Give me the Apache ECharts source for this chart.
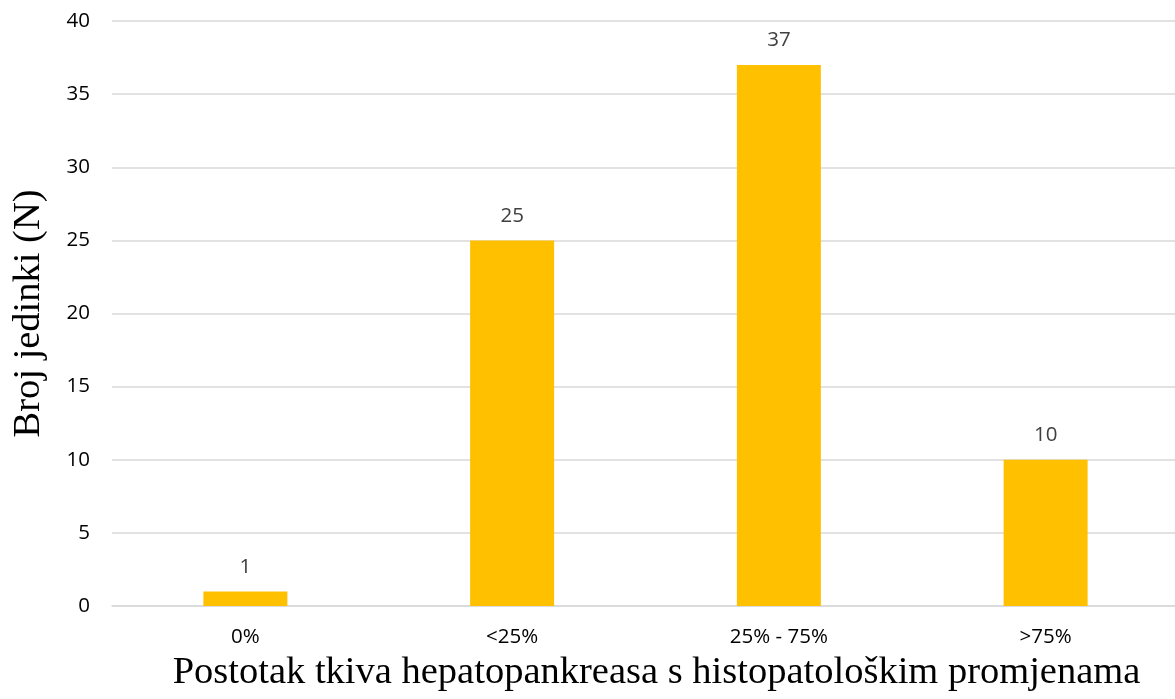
<!DOCTYPE html>
<html><head><meta charset="utf-8">
<script src="https://cdn.jsdelivr.net/npm/echarts@6/dist/echarts.min.js"></script>
<style>html,body{margin:0;padding:0;background:#fff}#c{width:1175px;height:699px}</style>
</head><body><div id="c"></div>
<script>
const categories = ['0%', '<25%', '25% - 75%', '>75%'];
const values = [1, 25, 37, 10];
const xTitle = 'Postotak tkiva hepatopankreasa s histopatološkim promjenama';
const yTitle = 'Broj jedinki (N)';

const chart = echarts.init(document.getElementById('c'));
chart.setOption({
  animation: false,
  grid: { left: 112, top: 21, bottom: 93, width: 1067, containLabel: false, outerBoundsMode: 'none' },
  xAxis: {
    type: 'category', data: categories,
    axisLine: { lineStyle: { color: '#d9d9d9', width: 1.5 } },
    axisTick: { show: false },
    axisLabel: { color: '#000', fontSize: 20.5, fontFamily: 'Open Sans', margin: 21 },
    name: xTitle, nameLocation: 'middle', nameGap: 45,
    nameTextStyle: { fontFamily: 'Liberation Serif', fontSize: 38.5, color: '#000', padding: [0, 0, 0, 22] }
  },
  yAxis: {
    type: 'value', min: 0, max: 40, interval: 5,
    axisLine: { show: false }, axisTick: { show: false },
    splitLine: { lineStyle: { color: '#d9d9d9', width: 1.5 } },
    axisLabel: { color: '#000', fontSize: 20.5, fontFamily: 'Open Sans', margin: 22 },
    name: yTitle, nameLocation: 'middle', nameGap: 64,
    nameTextStyle: { fontFamily: 'Liberation Serif', fontSize: 38.5, color: '#000' }
  },
  series: [{
    type: 'bar', data: values, barWidth: 84,
    itemStyle: { color: '#ffc000' },
    label: { show: true, position: 'top', distance: 14, color: '#404040', fontSize: 20.5, fontFamily: 'Open Sans' }
  }]
});
</script></body></html>
